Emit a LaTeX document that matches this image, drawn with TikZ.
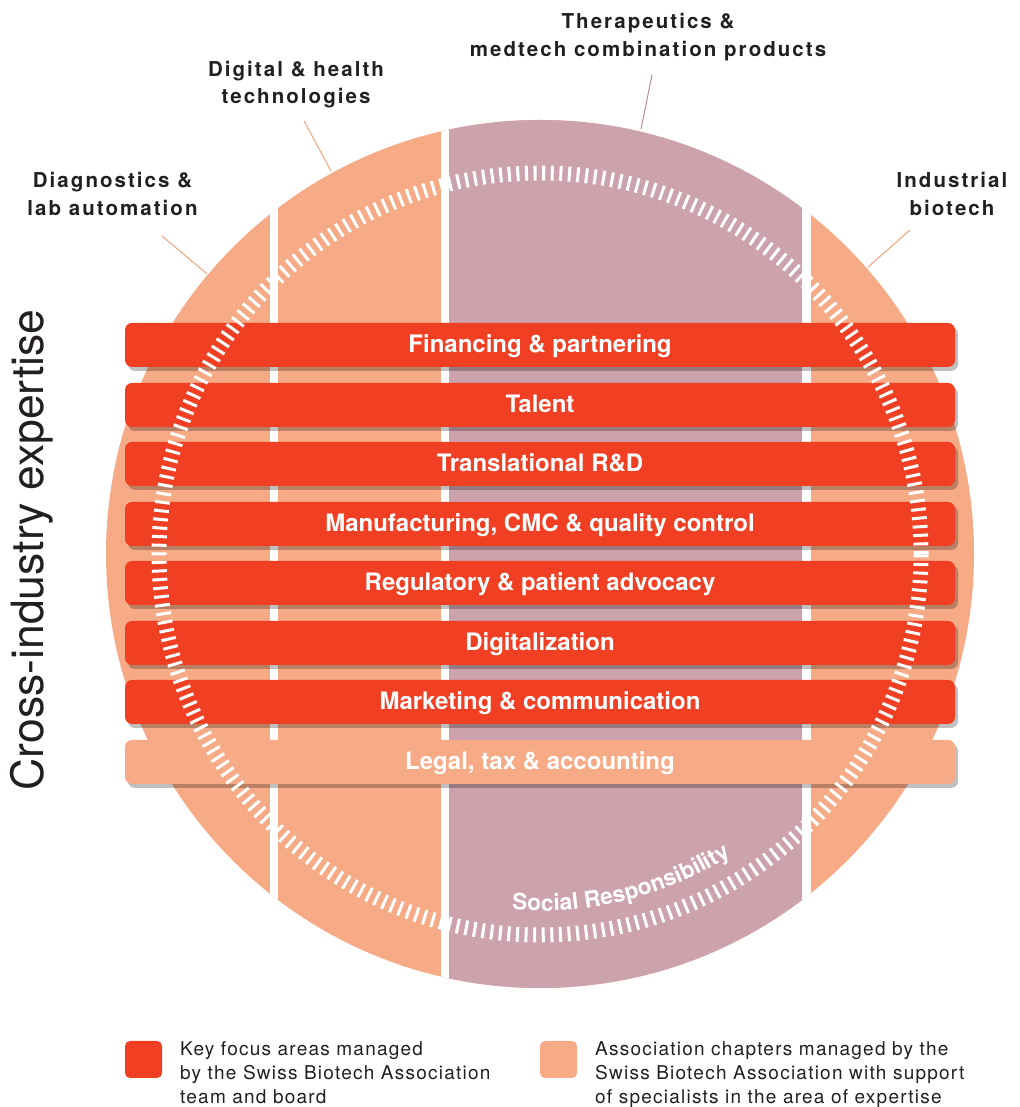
\documentclass[tikz,border=0pt]{standalone}
\usepackage{fontspec}
\setmainfont{TeX Gyre Heros}
\newfontfamily\labelfam[LetterSpace=10]{TeX Gyre Heros}
\newfontfamily\legfam[LetterSpace=6.5]{TeX Gyre Heros}
\usetikzlibrary{shadows,decorations.text}
\definecolor{barred}{HTML}{F03F23}
\definecolor{salmon}{HTML}{F7AA86}
\definecolor{mauve}{HTML}{CCA2AD}
\definecolor{leadsalmon}{HTML}{F5A07C}
\definecolor{leadmauve}{HTML}{B98D99}
\definecolor{textdark}{HTML}{231F20}
\tikzset{
  barbox/.style={rectangle, rounded corners=7pt, minimum width=830pt, minimum height=44pt,
    inner sep=0pt, text height=17.3pt, text depth=2pt, text=white, font=\fontsize{24}{24}\selectfont\bfseries,
    drop shadow={shadow xshift=3pt, shadow yshift=-4pt, fill=black, opacity=0.25}},
  keybar/.style={barbox, fill=barred},
  chapbar/.style={barbox, fill=salmon},
  seglabel/.style={anchor=north, align=center, inner sep=0pt, text=textdark,
    font=\labelfam\fontsize{20.5}{27.5}\selectfont\bfseries},
  leadline/.style={line width=1pt},
  legbox/.style={rectangle, rounded corners=5pt, minimum size=37pt, inner sep=0pt},
  legtext/.style={anchor=north west, align=left, inner sep=0pt, text=textdark,
    font=\legfam\fontsize{19}{24}\selectfont},
}
\begin{document}
\begin{tikzpicture}[x=1pt,y=1pt]
\useasboundingbox (0,0) rectangle (1019,1107);
% segments of the circle
\begin{scope}
  \clip (540,553) circle[radius=434pt];
  \fill[salmon] (100,110) rectangle (980,1000);
  \fill[mauve] (449,110) rectangle (802,1000);
  \fill[white] (270,110) rectangle (278,1000);
  \fill[white] (441,110) rectangle (449,1000);
  \fill[white] (802,110) rectangle (811,1000);
\end{scope}
% bars
\node[keybar] (b1) at (540,762) {Financing \& partnering};
\node[keybar] (b2) at (540,702) {Talent};
\node[keybar] (b3) at (540,643) {Translational R\&D};
\node[keybar] (b4) at (540,583) {Manufacturing, CMC \& quality control};
\node[keybar] (b5) at (540,524) {Regulatory \& patient advocacy};
\node[keybar] (b6) at (540,464) {Digitalization};
\node[keybar] (b7) at (540,405) {Marketing \& communication};
\node[chapbar] (b8) at (540,345) {Legal, tax \& accounting};
% dashed ring
\draw[white, line width=15pt, dash pattern=on 3pt off 5.6pt] (540,553) circle[radius=381pt];
% social responsibility
\path[decorate, decoration={text along path, text color=white,
  text={|\fontsize{22.8}{22.8}\selectfont\bfseries|Social Responsibility}, text align=left}]
  (540,553) ++(-94.5:357pt) arc[start angle=-94.5, end angle=-40, radius=357pt];
% segment labels
\node[seglabel] (ldiag) at (112.5,934.5) {Diagnostics \&\\lab automation};
\node[seglabel] (ldig) at (296,1046) {Digital \& health\\technologies};
\node[seglabel] (lther) at (648,1093.5) {Therapeutics \&\\medtech combination products};
\node[seglabel] (lind) at (952,934.5) {Industrial\\biotech};
% leader lines
\coordinate (cdiagA) at (162,871); \coordinate (cdiagB) at (207,833);
\coordinate (cdigA) at (304,986); \coordinate (cdigB) at (331,936);
\coordinate (ctherA) at (652,1032); \coordinate (ctherB) at (641,978);
\coordinate (cindA) at (910,877); \coordinate (cindB) at (868,840);
\draw[leadline, leadsalmon] (cdiagA) -- (cdiagB);
\draw[leadline, leadsalmon] (cdigA) -- (cdigB);
\draw[leadline, leadmauve] (ctherA) -- (ctherB);
\draw[leadline, leadsalmon] (cindA) -- (cindB);
% side title
\node[rotate=90, anchor=base, inner sep=0pt, text=textdark, font=\fontsize{44.5}{44.5}\selectfont] (side) at (43,557) {Cross-industry expertise};
% legend
\node[legbox, fill=barred] (lk1) at (143.5,47.5) {};
\node[legtext] (lt1) at (180,66) {Key focus areas managed\\by the Swiss Biotech Association\\team and board};
\node[legbox, fill=salmon] (lk2) at (558.5,47.5) {};
\node[legtext] (lt2) at (595,66) {Association chapters managed by the\\Swiss Biotech Association with support\\of specialists in the area of expertise};
\end{tikzpicture}
\end{document}
